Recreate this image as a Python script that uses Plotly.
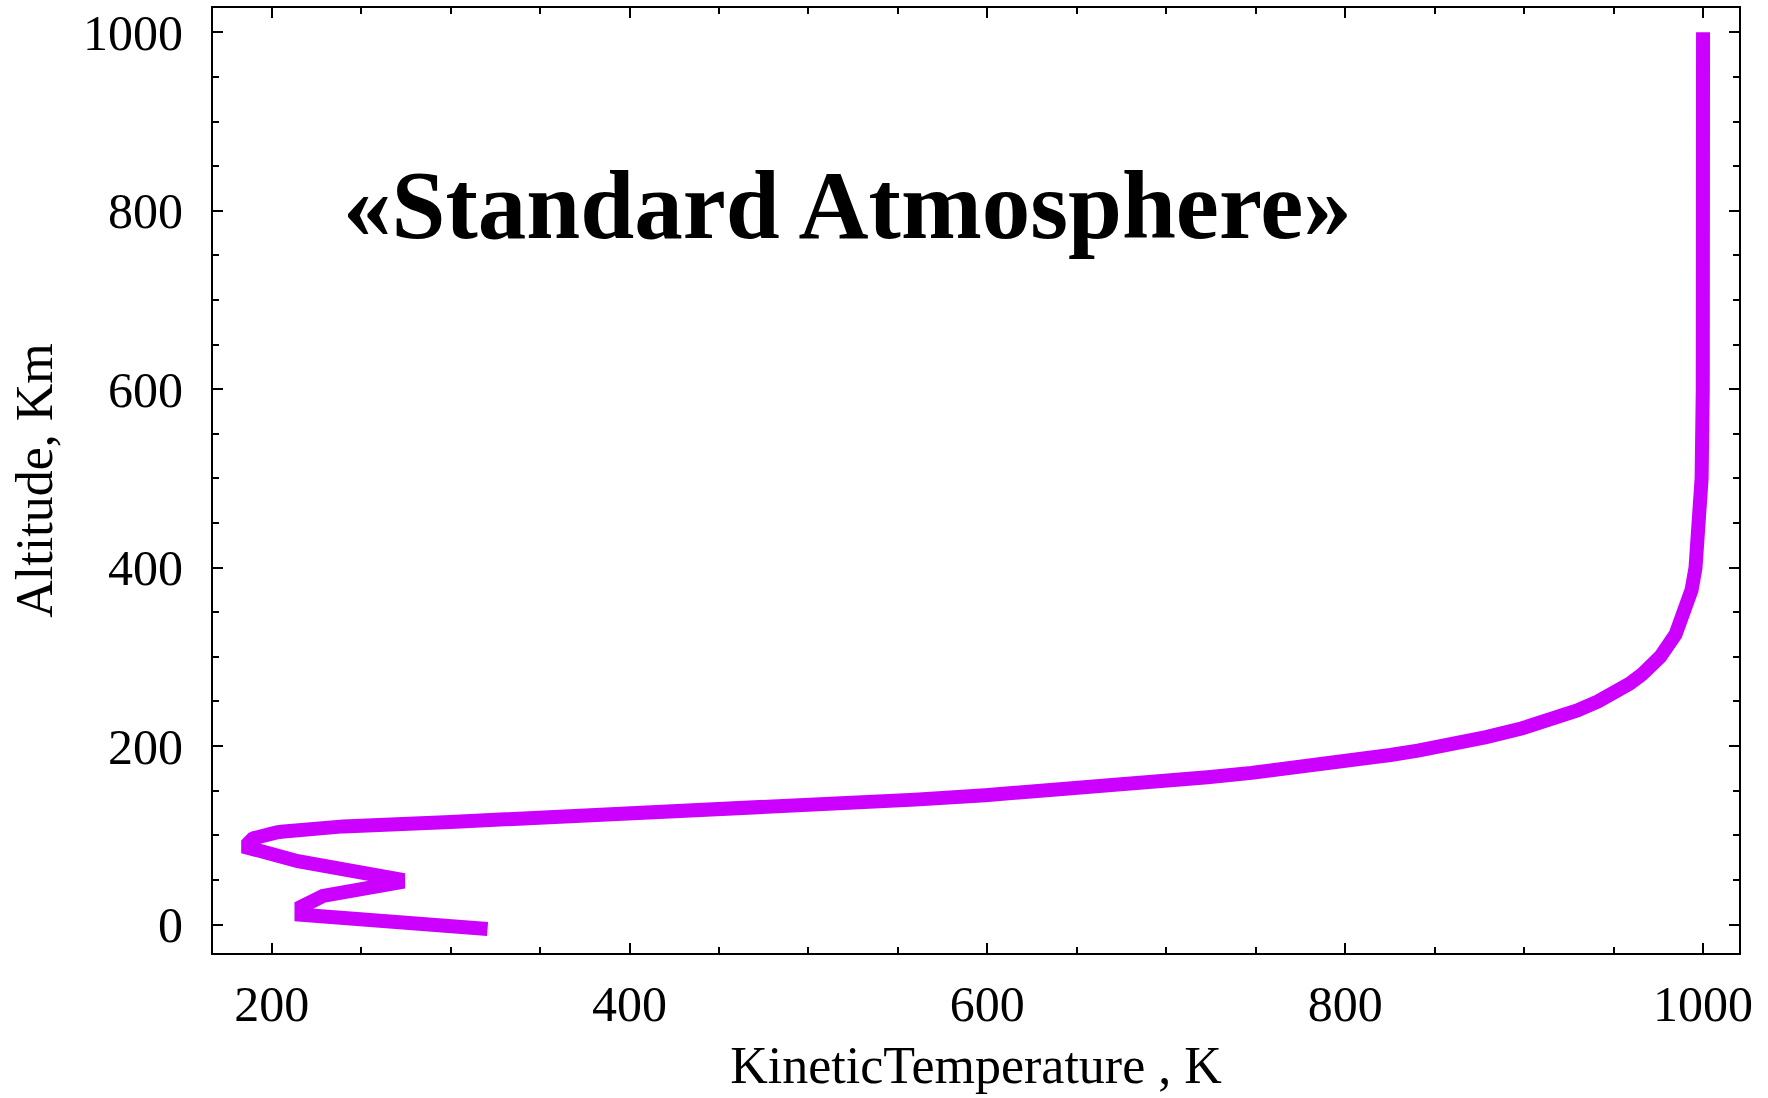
import plotly.graph_objects as go

# Kinetic temperature profile (altitude in km, temperature in K)
altitude_km = [-5, 11, 20, 32, 47, 51, 71, 86, 91, 92,
               93, 94, 95, 96, 97, 98, 99, 100, 101, 102,
               103, 104, 105, 106, 107, 108, 109, 109.5, 110, 115,
               120, 125, 130, 135, 140, 145, 150, 155, 160, 165,
               170, 175, 180, 185, 190, 195, 200, 210, 220, 230,
               240, 250, 260, 270, 280, 290, 300, 325, 350, 375,
               400, 450, 500, 600, 700, 800, 1000]
temperature_K = [320.65, 216.65, 216.65, 228.65, 270.65, 270.65, 214.65, 186.87, 186.87, 186.96,
                 187.25, 187.74, 188.42, 189.30, 190.40, 191.72, 193.28, 195.08, 197.16, 199.53,
                 202.23, 205.31, 208.84, 212.90, 217.63, 223.30, 230.35, 234.71, 240.00, 300.00,
                 360.0, 417.2, 469.3, 516.6, 559.6, 598.8, 634.4, 666.8, 696.3, 723.1,
                 747.6, 769.8, 790.1, 808.5, 825.3, 840.6, 854.6, 878.8, 899.0, 915.8,
                 929.7, 941.3, 951.0, 959.0, 965.7, 971.3, 976.0, 984.6, 990.1, 993.6,
                 995.8, 998.2, 999.2, 999.85, 999.97, 999.99, 1000.0]

x_ticks = [200, 400, 600, 800, 1000]
y_ticks = [0, 200, 400, 600, 800, 1000]

title_text = "«Standard Atmosphere»"
x_title = "KineticTemperature , K"
y_title = "Altitude, Km"

FONT = "Liberation Serif, Times New Roman, serif"

fig = go.Figure()
fig.add_trace(go.Scatter(
    x=temperature_K, y=altitude_km, mode="lines",
    line=dict(color="#CC00FF", width=14),
    showlegend=False, hoverinfo="skip",
))

axis_common = dict(
    showline=True, linewidth=2, linecolor="black", mirror="ticks",
    ticks="inside", ticklen=10, tickwidth=2, tickcolor="black",
    showgrid=False, zeroline=False,
    tickfont=dict(family=FONT, size=50, color="black"),
    minor=dict(ticks="inside", ticklen=6, tickwidth=2, tickcolor="black", dtick=50, showgrid=False),
)

fig.update_xaxes(
    range=[167.2, 1020.1], tickvals=x_ticks, ticktext=[str(v) for v in x_ticks],
    title=dict(text=x_title, font=dict(family=FONT, size=52, color="black"), standoff=16),
    ticklabelstandoff=6,
    **axis_common,
)
fig.update_yaxes(
    range=[-31.9, 1027.2], tickvals=y_ticks, ticktext=[str(v) for v in y_ticks],
    title=dict(text=y_title, font=dict(family=FONT, size=52, color="black"), standoff=14),
    ticklabelstandoff=18,
    **axis_common,
)

fig.add_annotation(
    text="<b>" + title_text + "</b>", xref="paper", yref="paper",
    x=0.4155, y=0.791, xanchor="center", yanchor="middle", showarrow=False,
    font=dict(family=FONT, size=97, color="black"),
)

fig.update_layout(
    width=1768, height=1098,
    margin=dict(l=213, r=29, t=8, b=145, autoexpand=False),
    plot_bgcolor="white", paper_bgcolor="white",
)

fig.write_html("out.html", config={"displayModeBar": False},
               post_script="document.body.style.margin='0px';")
